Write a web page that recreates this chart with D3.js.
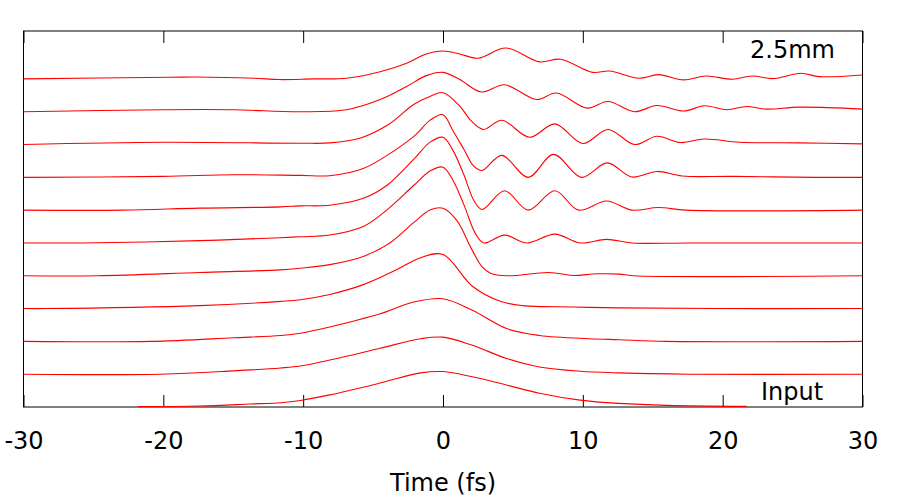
<!DOCTYPE html>
<head>
<meta charset="utf-8">
<title>Pulse propagation</title>
<style>
  body { margin: 0; background: #fff; }
  #chart text { font-family: "DejaVu Sans", sans-serif; fill: #000; }
</style>
</head>
<body>
<div id="chart"></div>

<script src="https://d3js.org/d3.v7.min.js"></script>
<script>
// x axis ticks (fs)
const X_TICKS = [-30, -20, -10, 0, 10, 20, 30];

// traces, bottom (input) to top (2.5mm); values in units of one trace spacing
const T_0 = [-21.8, -17.4, -13.8, -11.6, -10.2, -8.1, -4.5, -1.6, 0, 2.1, 4.55, 6.9, 9.8, 12.6, 16, 21.7];
const V_0 = [0.01, 0.03, 0.09, 0.13, 0.20, 0.37, 0.73, 1.04, 1.08, 0.92, 0.67, 0.42, 0.21, 0.11, 0.05, 0.02];

const T_1 = [-30, -20.2, -15, -11.6, -10.2, -8.1, -4.5, -1.6, 0, 2.1, 4.55, 6.9, 9.8, 12.6, 17.5, 30];
const V_1 = [0, 0, 0.10, 0.19, 0.25, 0.43, 0.79, 1.08, 1.13, 0.88, 0.48, 0.22, 0.09, 0.04, 0, 0];

const T_2 = [-30, -20.9, -15, -11.6, -10.2, -8.1, -4.5, -2.1, 0, 2.1, 4.55, 6.9, 10.5, 12.6, 16, 30];
const V_2 = [0, 0, 0.11, 0.18, 0.25, 0.44, 0.84, 1.20, 1.30, 0.95, 0.39, 0.18, 0.08, 0.05, 0, 0];

const T_3 = [-30, -28.4, -17.4, -11.6, -10.2, -8.1, -5.7, -3.3, -1.6, 0, 2.1, 4.1, 5.7, 9.3, 12.6, 19.5, 30];
const V_3 = [0, 0, 0.09, 0.22, 0.27, 0.43, 0.73, 1.19, 1.55, 1.65, 0.68, 0.22, 0.09, 0.05, 0.02, 0, 0];

const T_4 = [-30, -24.7, -17.4, -11.6, -10.2, -8.1, -5.7, -3.8, -2.1, -0.9, 0, 1.0, 2.0, 2.8, 3.4, 4.55, 7.6, 9.3, 11, 12.6, 13.6, 30];
const V_4 = [0, 0, 0.10, 0.18, 0.23, 0.34, 0.59, 1.00, 1.62, 2.01, 2.06, 1.68, 0.85, 0.27, 0.08, 0, 0.10, 0.01, 0.06, 0.05, 0, 0];

const T_5 = [-30, -25.9, -17.4, -11.6, -10.2, -8.1, -5.7, -4.0, -2.1, -0.9, 0, 0.7, 1.5, 2.3, 2.9, 4.4, 6.0, 8.0, 9.8, 11.7, 13.5, 17.5, 30];
const V_5 = [0, 0, 0.07, 0.16, 0.19, 0.24, 0.50, 1.01, 1.75, 2.20, 2.31, 1.92, 1.16, 0.30, 0, 0.24, 0, 0.27, 0, 0.11, 0, 0, 0];

const T_6 = [-30, -22.9, -17.4, -11.6, -10.2, -8.1, -5.7, -4.0, -2.1, -0.9, 0, 0.7, 1.5, 2.2, 2.8, 4.4, 6.1, 8.0, 9.7, 11.7, 13.5, 15.4, 17.4, 30];
const V_6 = [0, 0, 0.06, 0.10, 0.13, 0.15, 0.36, 0.76, 1.55, 2.08, 2.22, 1.83, 1.07, 0.30, 0.02, 0.59, 0, 0.59, 0, 0.28, 0, 0.08, 0, 0];

const T_7 = [-30, -20, -15, -10.2, -8.1, -5.7, -4.0, -2.0, -0.9, 0, 0.7, 1.5, 2.2, 2.8, 4.2, 6.1, 7.9, 9.9, 11.75, 13.5, 15.3, 17.1, 20.7, 26.6, 30];
const V_7 = [0, 0.03, 0.08, 0.06, 0.05, 0.27, 0.67, 1.28, 1.75, 1.91, 1.43, 0.85, 0.34, 0.21, 0.67, 0, 0.70, 0, 0.44, 0.01, 0.18, 0.04, 0.03, 0, 0];

const T_8 = [-30, -20, -10.2, -8.1, -5.9, -3.9, -2.1, -0.9, 0, 1.2, 2.0, 2.9, 4.2, 6.2, 8.0, 10.0, 11.8, 13.7, 15.3, 17.0, 18.7, 21.2, 25.5, 30];
const V_8 = [0, 0.07, 0.04, 0.05, 0.20, 0.61, 1.22, 1.47, 1.58, 1.17, 0.73, 0.46, 0.74, 0.22, 0.63, 0.03, 0.46, 0, 0.25, 0.06, 0.17, 0.07, 0.05, 0.02];

const T_9 = [-30, -20, -15, -10.2, -6.9, -4.5, -2.6, -1.2, 0, 1.2, 2.75, 4.4, 6.7, 8.1, 10.3, 11.8, 13.7, 15.3, 17.2, 18.7, 20.3, 21.7, 23.1, 25.5, 30];
const V_9 = [0, 0.06, 0.06, 0, 0.06, 0.37, 0.77, 1.10, 1.20, 0.98, 0.60, 0.82, 0.37, 0.57, 0.11, 0.31, 0, 0.19, 0.02, 0.18, 0.06, 0.16, 0.08, 0.14, 0.08];

const T_10 = [-30, -19.5, -17.6, -13.5, -11.7, -9.3, -6.9, -4.5, -2.6, -1.2, 0, 1.2, 2.5, 4.5, 6.9, 8.4, 10.7, 11.9, 14.0, 15.4, 17.2, 18.8, 20.7, 22.1, 23.6, 25.6, 26.9, 30];
const V_10 = [0, 0.05, 0.06, 0.02, -0.02, 0, 0.02, 0.22, 0.48, 0.76, 0.85, 0.76, 0.63, 0.94, 0.52, 0.60, 0.20, 0.24, 0.02, 0.13, -0.03, 0.09, -0.01, 0.09, 0.01, 0.17, 0.07, 0.12];

const TIMES  = [T_0, T_1, T_2, T_3, T_4, T_5, T_6, T_7, T_8, T_9, T_10];
const VALUES = [V_0, V_1, V_2, V_3, V_4, V_5, V_6, V_7, V_8, V_9, V_10];

const WIDTH = 900, HEIGHT = 500;
let svg, x, y;

// Initialize
initChart();


function initChart() {

	svg = d3.select("#chart")
		.append("svg")
		.attr("width", WIDTH)
		.attr("height", HEIGHT);

	x = d3.scaleLinear().domain([-30, 30]).range([23.5, 862.5]);
	y = d3.scaleLinear().domain([0, 11.46]).range([407, 31]);

	drawFrame();
	drawTraces();
	drawLabels();

} // @end initChart()



//
// Border, ticks, tick labels
//
function drawFrame() {

	svg.append("rect")
		.attr("x", x(-30)).attr("y", y(11.46))
		.attr("width", x(30) - x(-30))
		.attr("height", y(0) - y(11.46))
		.attr("fill", "none")
		.attr("stroke", "#000")
		.attr("stroke-width", 1);

	const bottom = svg.append("g")
		.attr("transform", `translate(0,${y(0)})`)
		.call(d3.axisBottom(x)
			.tickValues(X_TICKS)
			.tickSizeInner(-12)
			.tickSizeOuter(0)
			.tickPadding(0)
			.tickFormat(d => String(d)));

	bottom.select(".domain").remove();
	bottom.selectAll("line").attr("stroke", "#000");
	bottom.selectAll("text")
		.attr("y", 42)
		.attr("dy", 0)
		.style("font-size", "24px");

	const top = svg.append("g")
		.attr("transform", `translate(0,${y(11.46)})`)
		.call(d3.axisTop(x)
			.tickValues(X_TICKS)
			.tickSizeInner(-12)
			.tickSizeOuter(0)
			.tickFormat(""));

	top.select(".domain").remove();
	top.selectAll("line").attr("stroke", "#000");

} // @end drawFrame()



//
// Stacked traces
//
function drawTraces() {

	const line = d3.line()
		.x(d => x(d.t))
		.y(d => y(d.offset + d.v))
		.curve(d3.curveCatmullRom.alpha(0.5));

	const traces = TIMES.map((ts, i) =>
		ts.map((t, j) => ({ t: t, v: VALUES[i][j], offset: i })));

	svg.append("g")
		.selectAll("path")
		.data(traces)
		.join("path")
		.attr("d", line)
		.attr("fill", "none")
		.attr("stroke", "#ff0000")
		.attr("stroke-width", 1.1);

} // @end drawTraces()



//
// Text labels
//
function drawLabels() {

	svg.append("text")
		.attr("x", 750).attr("y", 58)
		.style("font-size", "24px")
		.text("2.5mm");

	svg.append("text")
		.attr("x", 761).attr("y", 400)
		.style("font-size", "24px")
		.text("Input");

	svg.append("text")
		.attr("x", x(0)).attr("y", 491)
		.attr("text-anchor", "middle")
		.style("font-size", "24px")
		.text("Time (fs)");

} // @end drawLabels()
</script>
</body>
